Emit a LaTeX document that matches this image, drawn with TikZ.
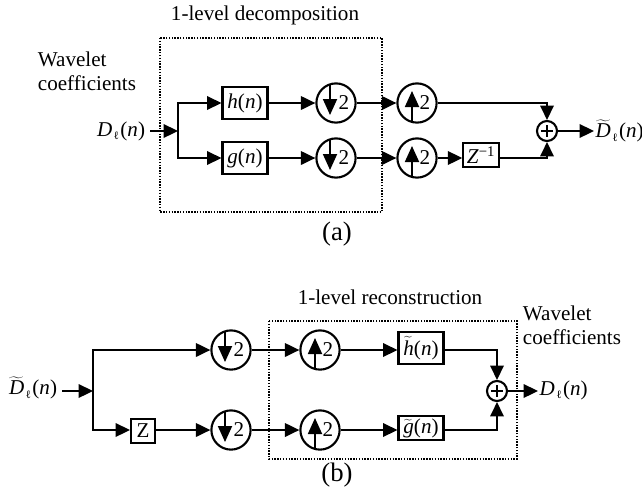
\documentclass[tikz,border=0pt]{standalone}
\usepackage{fontspec}
\setmainfont{Liberation Serif}
\usepackage{tikz}
\usetikzlibrary{arrows.meta,calc,positioning}

\newcommand{\sub}[1]{\kern1pt\raisebox{-0.4ex}{\fontsize{8}{8}\selectfont #1}\kern1pt}
\newcommand{\tl}[1]{\ensuremath{\widetilde{\mbox{\itshape #1}}}}
\newcommand{\Dl}{\textit{D}\sub{ℓ}(\textit{n})}
\newcommand{\Dlt}{\tl{D}\sub{ℓ}(\textit{n})}

\tikzset{
  blk/.style={draw,line width=1.5pt,inner xsep=3.5pt,inner ysep=4.5pt},
  smp/.style={draw,circle,line width=1.5pt,minimum size=0.98cm,inner sep=0pt},
  sumc/.style={draw,circle,line width=1.5pt,minimum size=0.5cm,inner sep=0pt},
  conn/.style={line width=1.1pt,-{Triangle[length=3.6mm,width=3.4mm]}},
  stem/.style={line width=1.3pt,-{Triangle[length=4mm,width=3.5mm]}},
  frame/.style={line width=1pt,dash pattern=on 1pt off 1pt},
  capt/.style={font=\fontsize{19}{21}\selectfont},
}

\begin{document}
\begin{tikzpicture}[x=0.025cm,y=-0.025cm,font=\fontsize{15}{17}\selectfont]
  \useasboundingbox (0,0) rectangle (642,495);

  % (a) decomposition
  \node (tA) at (265,15) {1-level decomposition};
  \draw[frame] (160,38) rectangle (382,212);
  \node[align=left,anchor=west] (wA) at (33,71) {Wavelet\\coefficients};
  \coordinate (brA) at (178,131);
  \node[anchor=east] (inA) at (150,131) {\Dl};
  \node[blk] (hA) at (245,103) {\textit{h}(\textit{n})};
  \node[blk] (gA) at (245,158) {\textit{g}(\textit{n})};
  \node[smp] (dA1) at (336,103) {};
  \node[smp] (dA2) at (336,158) {};
  \node[smp] (uA1) at (417,103) {};
  \node[smp] (uA2) at (417,158) {};
  \node[blk,inner sep=2.5pt] (zA) at (481,155) {\textit{Z}\textsuperscript{−1}};
  \node[sumc] (sA) at (547,131) {};
  \node[anchor=west,inner sep=1pt] (outA) at (594,131) {\Dlt};
  \node[capt] (capA) at (337,234) {(a)};

  \draw[conn] (inA) -- (brA);
  \draw[conn] (brA) |- (hA);
  \draw[conn] (brA) |- (gA);
  \draw[conn] (hA) -- (dA1);
  \draw[conn] (gA) -- (dA2);
  \draw[conn] (dA1) -- (uA1);
  \draw[conn] (dA2) -- (uA2);
  \draw[conn] (uA2) -- (uA2 -| zA.west);
  \draw[conn] (uA1) -| (sA);
  \draw[conn] (zA.east |- uA2) -| (sA);
  \draw[conn] (sA) -- (outA);

  % (b) reconstruction
  \node (tB) at (390,297) {1-level reconstruction};
  \draw[frame] (269,321) rectangle (517,459);
  \node[align=left,anchor=west] (wB) at (518,325) {Wavelet\\coefficients};
  \coordinate (brB) at (93,391);
  \node[anchor=east] (inB) at (62,388) {\Dlt};
  \node[blk,inner sep=1pt,minimum size=17pt] (zB) at (143,431) {Z};
  \node[smp] (dB1) at (231,350) {};
  \node[smp] (dB2) at (231,430) {};
  \node[smp] (uB1) at (320,350) {};
  \node[smp] (uB2) at (320,430) {};
  \node[blk,inner ysep=3pt] (hB) at (421,348) {\tl{h}(\textit{n})};
  \node[blk,inner ysep=2pt] (gB) at (421,428) {\tl{g}(\textit{n})};
  \node[sumc] (sB) at (497,391) {};
  \node[anchor=west,inner sep=1pt] (outB) at (538,390) {\Dl};
  \node[capt] (capB) at (337,475) {(b)};

  \draw[conn] (inB.east |- brB) -- (brB);
  \draw[conn] (brB) |- (dB1);
  \draw[conn] (brB) |- (zB.west |- dB2);
  \draw[conn] (zB.east |- dB2) -- (dB2);
  \draw[conn] (dB1) -- (uB1);
  \draw[conn] (dB2) -- (uB2);
  \draw[conn] (uB1) -- (uB1 -| hB.west);
  \draw[conn] (uB2) -- (uB2 -| gB.west);
  \draw[conn] (hB.east |- uB1) -| (sB);
  \draw[conn] (gB.east |- uB2) -| (sB);
  \draw[conn] (sB) -- (outB.west |- sB);

  % arrows and 2 inside the sampler circles
  \foreach \c in {dA1,dA2,dB1,dB2}{
    \draw[stem] ($(\c)+(-6,-19)$) -- ($(\c)+(-6,12)$);
    \node[inner sep=0pt] (\c-n) at ($(\c)+(8,0)$) {2};
  }
  \foreach \c in {uA1,uA2,uB1,uB2}{
    \draw[stem] ($(\c)+(-5,19)$) -- ($(\c)+(-5,-12)$);
    \node[inner sep=0pt] (\c-n) at ($(\c)+(8,0)$) {2};
  }
  % plus signs
  \foreach \c in {sA,sB}{
    \draw[line width=1.2pt] ($(\c)+(-6,0)$) -- ($(\c)+(6,0)$);
    \draw[line width=1.2pt] ($(\c)+(0,-6)$) -- ($(\c)+(0,6)$);
  }
\end{tikzpicture}
\end{document}
